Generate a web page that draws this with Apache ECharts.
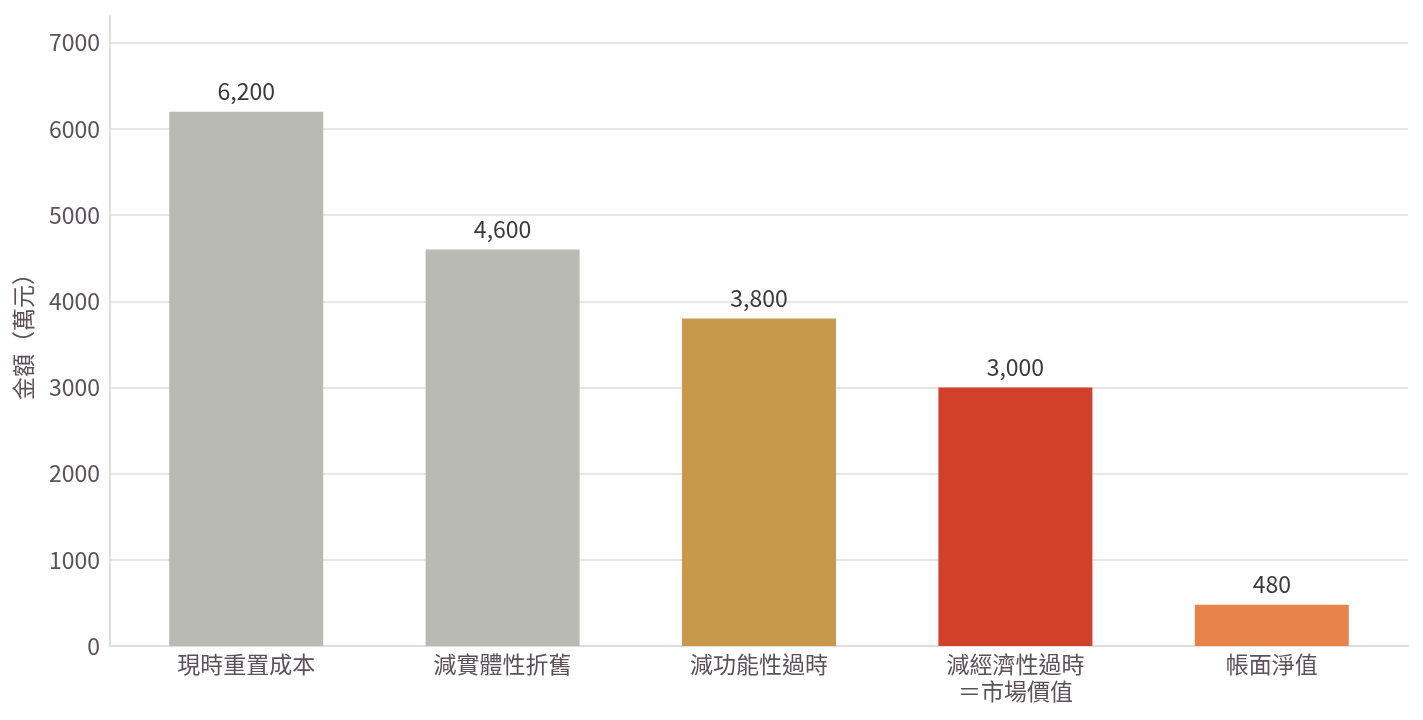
<!DOCTYPE html>
<html>
<head>
    <meta charset="utf-8" />
    <script src="https://cdn.jsdelivr.net/npm/echarts@6/dist/echarts.min.js"></script>
    <title></title>
    <style>
        html, body { margin: 0; padding: 0; background: #fff; }
    </style>
</head>
<body>
    <div id="main" style="width: 1423px;height:720px;"></div>

    <script type="text/javascript">

        var categories = ['現時重置成本', '減實體性折舊', '減功能性過時', '減經濟性過時\n＝市場價值', '帳面淨值'];
        var values = [6200, 4600, 3800, 3000, 480];
        var barColors = ['#b8bab3', '#b8bab3', '#c8994b', '#d0402b', '#e8844a'];

        var font = '"Noto Sans CJK TC", "Noto Sans", sans-serif';
        var textColor = '#5a5257';
        var lineColor = '#e0dedb';

        var myChart = echarts.init(document.getElementById('main'));

        // grid 0: frame, gridlines, y labels; grid 1: bars with a little padding on both sides
        myChart.setOption({
            animation: false,
            grid: [
                { left: 110, right: 15, top: 16, bottom: 74 },
                { left: 118, right: 23, top: 16, bottom: 74 }
            ],
            xAxis: [{
                gridIndex: 0,
                type: 'value',
                min: 0,
                max: 1,
                axisLine: { show: true, onZero: false, lineStyle: { color: lineColor, width: 2 } },
                axisTick: { show: false },
                axisLabel: { show: false },
                splitLine: { show: false }
            }, {
                gridIndex: 1,
                type: 'category',
                data: categories,
                axisLine: { show: false },
                axisTick: { show: false },
                axisLabel: {
                    color: textColor,
                    fontSize: 23,
                    fontFamily: font,
                    lineHeight: 27,
                    margin: 5
                }
            }],
            yAxis: [{
                gridIndex: 0,
                type: 'value',
                min: 0,
                max: 7310,
                interval: 1000,
                name: '金額（萬元）',
                nameLocation: 'middle',
                nameGap: 75,
                nameTextStyle: { color: textColor, fontSize: 23, fontFamily: font },
                axisLine: { show: true, lineStyle: { color: lineColor, width: 2 } },
                axisTick: { show: false },
                axisLabel: {
                    color: textColor,
                    fontSize: 23,
                    fontFamily: font,
                    margin: 10,
                    showMaxLabel: false,
                    formatter: function (v) { return String(v); }
                },
                splitLine: {
                    lineStyle: {
                        color: [lineColor, lineColor, lineColor, lineColor, lineColor, lineColor, lineColor, lineColor, 'rgba(0,0,0,0)'],
                        width: 1.5
                    }
                }
            }, {
                gridIndex: 1,
                type: 'value',
                min: 0,
                max: 7310,
                show: false
            }],
            series: [{
                type: 'bar',
                xAxisIndex: 1,
                yAxisIndex: 1,
                barWidth: 154,
                data: values.map(function (v, i) {
                    return { value: v, itemStyle: { color: barColors[i] } };
                }),
                label: {
                    show: true,
                    position: 'top',
                    distance: 9,
                    color: '#3a3a3a',
                    fontSize: 23,
                    fontFamily: font,
                    formatter: function (p) {
                        return p.value.toLocaleString('en-US');
                    }
                }
            }]
        });

    </script>
</body>
</html>
